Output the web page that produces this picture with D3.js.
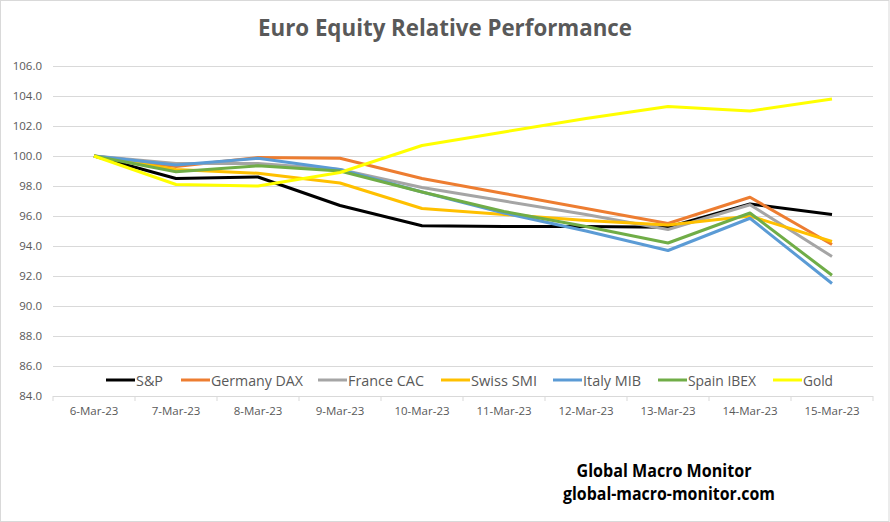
<!DOCTYPE html>
<html lang="en">
<head>
    <meta charset="UTF-8">
    <title>Euro Equity Relative Performance</title>
    <script src="https://d3js.org/d3.v7.min.js"></script>
    <style>
        body {margin: 0; background: white;}
        text {font-family: "Open Sans", sans-serif;}
    </style>
</head>
<body>
<script>
    const width = 890;
    const height = 522;

    // data
    const dates = ["6-Mar-23", "7-Mar-23", "8-Mar-23", "9-Mar-23", "10-Mar-23",
                   "11-Mar-23", "12-Mar-23", "13-Mar-23", "14-Mar-23", "15-Mar-23"];
    const seriesNames = ["S&P", "Germany DAX", "France CAC", "Swiss SMI", "Italy MIB", "Spain IBEX", "Gold"];
    const seriesColors = ["#000000", "#ED7D31", "#A5A5A5", "#FFC000", "#5B9BD5", "#70AD47", "#FFFF00"];
    const sp    = [100, 98.5, 98.6, 96.7, 95.35, 95.3, 95.3, 95.25, 96.8, 96.1];
    const dax   = [100, 99.3, 99.9, 99.85, 98.5, 97.5, 96.5, 95.5, 97.25, 94.1];
    const cac   = [100, 99.5, 99.5, 99.1, 97.9, 97.0, 96.1, 95.1, 96.75, 93.3];
    const smi   = [100, 99.1, 98.85, 98.2, 96.5, 96.1, 95.7, 95.4, 96.0, 94.3];
    const mib   = [100, 99.4, 99.85, 99.1, 97.6, 96.2, 95.0, 93.7, 95.85, 91.5];
    const ibex  = [100, 98.95, 99.35, 99.0, 97.6, 96.3, 95.3, 94.2, 96.2, 92.05];
    const gold  = [100, 98.1, 98.0, 98.9, 100.7, 101.6, 102.5, 103.3, 103.0, 103.8];
    const allSeries = [sp, dax, cac, smi, mib, ibex, gold];
    const yTicks = [84, 86, 88, 90, 92, 94, 96, 98, 100, 102, 104, 106];

    const svg = d3.select("body").append("svg")
            .attr("width", width).attr("height", height);

    svg.append("rect")
            .attr("x", 0.5).attr("y", 0.5)
            .attr("width", width - 1.5).attr("height", height - 1)
            .style("fill", "white")
            .style("stroke", "#d9d9d9");

    const x = d3.scalePoint().domain(dates).range([53, 873]).padding(0.5);
    const y = d3.scaleLinear().domain([84, 106]).range([396, 66]);
    const step = x.step();

    // gridlines + y labels
    const yAxis = d3.axisLeft(y).tickValues(yTicks)
            .tickSize(-(873 - 53)).tickPadding(11)
            .tickFormat(d3.format(".1f"));
    svg.append("g")
            .attr("transform", "translate(53,0)")
            .call(yAxis)
            .call(g => g.select(".domain").remove())
            .call(g => g.selectAll("line").style("stroke", "#d9d9d9"))
            .call(g => g.selectAll("text")
                    .style("fill", "#595959").style("font-size", "11.5px"));

    // x axis: tick marks between categories
    svg.append("g").selectAll("line")
            .data(d3.range(dates.length + 1))
            .enter().append("line")
            .attr("x1", i => 53 + i * step).attr("x2", i => 53 + i * step)
            .attr("y1", y(84)).attr("y2", y(84) + 5)
            .style("stroke", "#d9d9d9");

    svg.append("g").selectAll("text")
            .data(dates)
            .enter().append("text")
            .attr("x", d => x(d)).attr("y", 415)
            .attr("text-anchor", "middle")
            .style("fill", "#595959").style("font-size", "11.5px")
            .text(d => d);

    // lines
    const line = d3.line().x((d, i) => x(dates[i])).y(d => y(d));
    svg.append("g").selectAll("path")
            .data(allSeries)
            .enter().append("path")
            .attr("d", line)
            .style("fill", "none")
            .style("stroke", (d, i) => seriesColors[i])
            .style("stroke-width", 3)
            .style("stroke-linejoin", "round");

    // legend
    const legendX = [106, 181, 318, 441, 553, 658, 773];
    const legendW = [27, 92, 76, 66, 58, 68, 30];
    const legend = svg.append("g").selectAll("g")
            .data(seriesNames)
            .enter().append("g")
            .attr("transform", (d, i) => `translate(${legendX[i]},380)`);
    legend.append("line")
            .attr("x1", 0).attr("x2", 29)
            .style("stroke", (d, i) => seriesColors[i])
            .style("stroke-width", 3);
    legend.append("text")
            .attr("x", 30).attr("y", 5.5)
            .attr("textLength", (d, i) => legendW[i]).attr("lengthAdjust", "spacingAndGlyphs")
            .style("fill", "#595959").style("font-size", "15px")
            .text(d => d);

    // title
    svg.append("text")
            .attr("x", 445).attr("y", 36)
            .attr("text-anchor", "middle")
            .attr("textLength", 374).attr("lengthAdjust", "spacingAndGlyphs")
            .style("font-weight", "bold").style("font-size", "24px")
            .style("fill", "#595959")
            .text("Euro Equity Relative Performance");

    // footer
    svg.append("text")
            .attr("x", 664).attr("y", 477)
            .attr("text-anchor", "middle")
            .attr("textLength", 175).attr("lengthAdjust", "spacingAndGlyphs")
            .style("font-weight", "bold").style("font-size", "17px")
            .text("Global Macro Monitor");
    svg.append("text")
            .attr("x", 669).attr("y", 500)
            .attr("text-anchor", "middle")
            .attr("textLength", 212).attr("lengthAdjust", "spacingAndGlyphs")
            .style("font-weight", "bold").style("font-size", "17px")
            .text("global-macro-monitor.com");
</script>
</body>
</html>
